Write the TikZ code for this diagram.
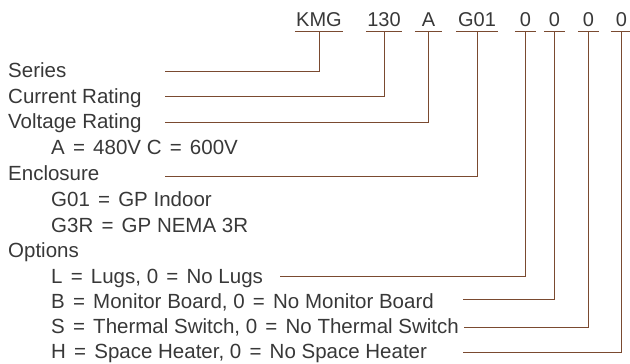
\documentclass[tikz,border=0pt]{standalone}
\usepackage{fontspec}
\setmainfont{Liberation Sans}
\definecolor{txt}{HTML}{383838}
\definecolor{brn}{HTML}{7A4A30}
\newcommand{\eq}{\hspace{0.4em}=\hspace{0.4em}}
\begin{document}
\begin{tikzpicture}[x=1pt,y=1pt,
  lbl/.style={anchor=base west,inner sep=0pt,text=txt,font=\fontsize{20.5}{24}\selectfont},
  code/.style={anchor=base,inner sep=0pt,text=txt,font=\fontsize{20}{24}\selectfont},
  ln/.style={draw=brn,line width=1pt}]
\useasboundingbox (0,0) rectangle (630,-364);
% codes
\node[code,minimum width=48] (kmg) at (319,-27) {KMG};
\node[code,minimum width=36] (cur) at (384,-27) {130};
\node[code,minimum width=27] (vol) at (428.5,-27) {A};
\node[code,minimum width=42] (enc) at (477,-27) {G01};
\node[code,minimum width=21] (o1) at (525.5,-27) {0};
\node[code,minimum width=21] (o2) at (554.5,-27) {0};
\node[code,minimum width=21] (o3) at (588.5,-27) {0};
\node[code,minimum width=21] (o4) at (621.5,-27) {0};
\foreach \n in {kmg,cur,vol,enc,o1,o2,o3,o4}{
  \draw[ln] ([yshift=-4pt]\n.base west) -- ([yshift=-4pt]\n.base east);
}
% labels
\node[lbl] (series) at (8,-77) {Series};
\node[lbl] (current) at (8,-103) {Current Rating};
\node[lbl] (voltage) at (8,-128.5) {Voltage Rating};
\node[lbl] (vopt) at (51,-154) {A\eq 480V C\eq 600V};
\node[lbl] (enclosure) at (8,-180) {Enclosure};
\node[lbl] (eopt1) at (51,-206) {G01\eq GP Indoor};
\node[lbl] (eopt2) at (51,-232) {G3R\eq GP NEMA 3R};
\node[lbl] (options) at (8,-257) {Options};
\node[lbl] (lugs) at (51,-283) {L\eq Lugs, 0\eq No Lugs};
\node[lbl] (mon) at (51,-308) {B\eq Monitor Board, 0\eq No Monitor Board};
\node[lbl] (therm) at (51,-333) {S\eq Thermal Switch, 0\eq No Thermal Switch};
\node[lbl] (heat) at (51,-358) {H\eq Space Heater, 0\eq No Space Heater};
% connector start points
\coordinate (c1) at (165,-71);
\coordinate (c2) at (165,-96);
\coordinate (c3) at (165,-122);
\coordinate (c4) at (165,-176);
\coordinate (c5) at (280,-276);
\coordinate (c6) at (463,-299.5);
\coordinate (c7) at (464,-327);
\coordinate (c8) at (463,-352);
\draw[ln] (c1) -| ([yshift=-4pt]kmg.base);
\draw[ln] (c2) -| ([yshift=-4pt]cur.base);
\draw[ln] (c3) -| ([yshift=-4pt]vol.base);
\draw[ln] (c4) -| ([yshift=-4pt]enc.base);
\draw[ln] (c5) -| ([yshift=-4pt]o1.base);
\draw[ln] (c6) -| ([yshift=-4pt]o2.base);
\draw[ln] (c7) -| ([yshift=-4pt]o3.base);
\draw[ln] (c8) -| ([yshift=-4pt]o4.base);
\end{tikzpicture}
\end{document}
